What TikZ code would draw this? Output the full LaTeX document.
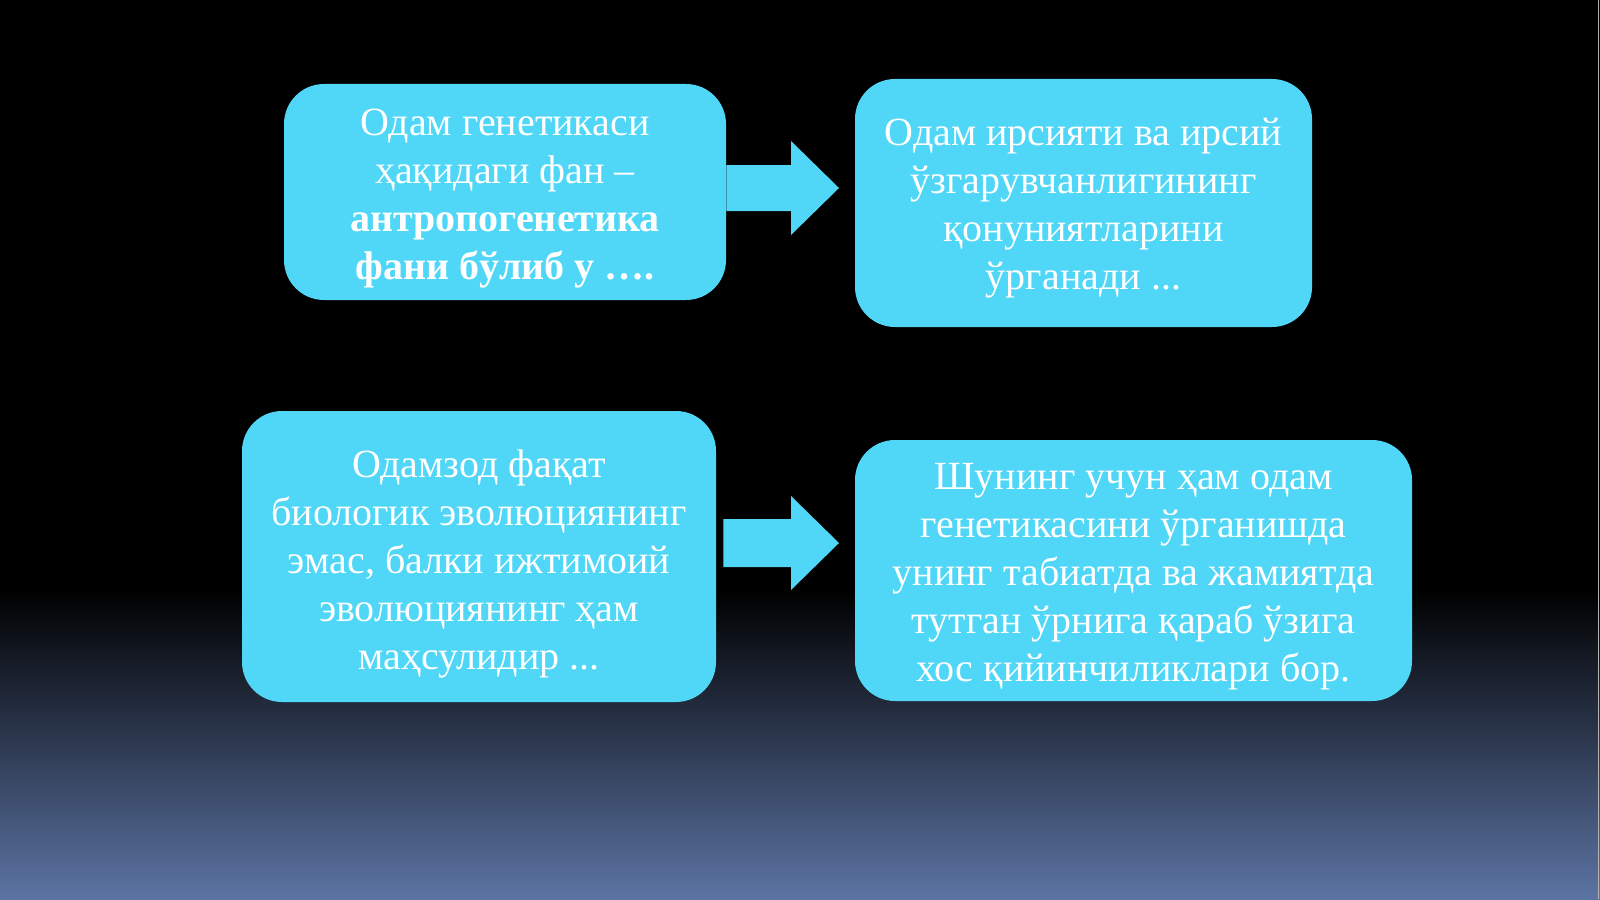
\documentclass[tikz,border=0pt]{standalone}
\usepackage{fontspec}
\setmainfont{Liberation Serif}
\usetikzlibrary{calc}
\definecolor{boxcyan}{RGB}{80,214,246}
\definecolor{slatebottom}{RGB}{92,116,163}

\begin{document}
\begin{tikzpicture}[x=0.5pt,y=-0.5pt]
            \tikzset{card/.style={fill=boxcyan, rounded corners=20pt, inner sep=0pt},
                cardtext/.style={text=white, align=center, inner sep=0pt, font=\fontsize{20}{24}\selectfont}}
            \useasboundingbox (0,0) rectangle (1600,899);
            \fill[black] (0,0) rectangle (1600,899);
            \shade[top color=black, bottom color=slatebottom] (0,590) rectangle (1600,899);
            \draw[gray!60, line width=0.6pt] (1598.5,0) -- (1598.5,899);

            \node[card, minimum width=221pt, minimum height=108pt] (gen) at (505,192) {};
            \node[cardtext] (gentext) at ([yshift=-3.5pt]gen.center)
                {Одам генетикаси\\ ҳақидаги фан –\\ \textbf{антропогенетика}\\ \textbf{фани бўлиб у ….}};
            \node[card, minimum width=228.5pt, minimum height=124pt] (irs) at (1083.5,203) {};
            \node[cardtext] (irstext) at ([yshift=-2.5pt]irs.center)
                {Одам ирсияти ва ирсий\\ ўзгарувчанлигининг\\ қонуниятларини\\ ўрганади ...};
            \node[card, minimum width=237pt, minimum height=145.5pt] (evo) at (479,556.5) {};
            \node[cardtext] (evotext) at ([yshift=-3.5pt]evo.center)
                {Одамзод фақат\\ биологик эволюциянинг\\ эмас, балки ижтимоий\\ эволюциянинг ҳам\\ маҳсулидир ...};
            \node[card, minimum width=278.5pt, minimum height=130.5pt] (qiy) at (1133.5,570.5) {};
            \node[cardtext] (qiytext) at ([yshift=-3pt]qiy.center)
                {Шунинг учун ҳам одам\\ генетикасини ўрганишда\\ унинг табиатда ва жамиятда\\ тутган ўрнига қараб ўзига\\ хос қийинчиликлари бор.};

            % block arrows
            \coordinate (A) at (gen.east |- 0,188);
            \coordinate (At) at (839,188);
            \fill[boxcyan] ($(A)+(0,-23)$) -- ($(At)+(-48,-23)$) -- ($(At)+(-48,-47)$) -- (At)
                -- ($(At)+(-48,47)$) -- ($(At)+(-48,23)$) -- ($(A)+(0,23)$) -- cycle;
            \coordinate (B) at ($(evo.east |- 0,543)+(7,0)$);
            \coordinate (Bt) at (839,543);
            \fill[boxcyan] ($(B)+(0,-24)$) -- ($(Bt)+(-48,-24)$) -- ($(Bt)+(-48,-47)$) -- (Bt)
                -- ($(Bt)+(-48,47)$) -- ($(Bt)+(-48,24)$) -- ($(B)+(0,24)$) -- cycle;
\end{tikzpicture}
\end{document}
